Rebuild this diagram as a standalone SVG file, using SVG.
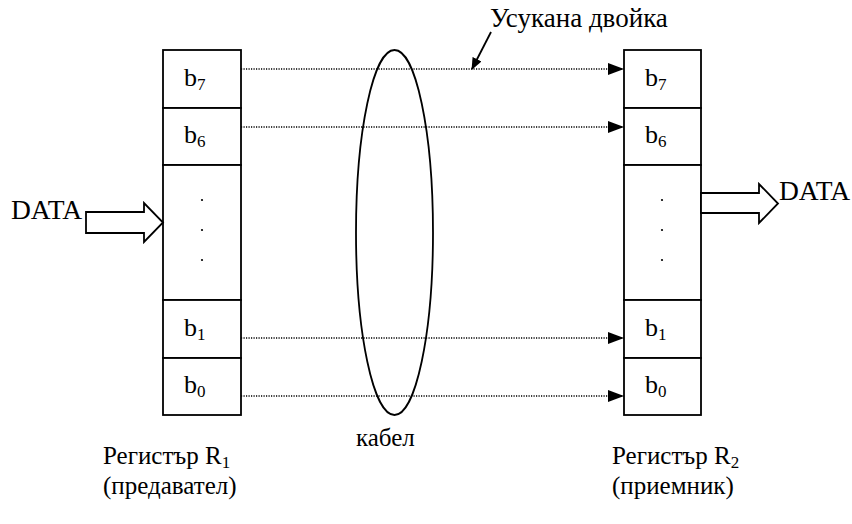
<svg xmlns="http://www.w3.org/2000/svg" width="852" height="524" viewBox="0 0 852 524">
<style>
.box{fill:#fff;stroke:#000;stroke-width:1.8}
text{font-family:'Liberation Serif','Times New Roman','DejaVu Serif',serif;font-size:26px;fill:#000}
.sub{font-size:17px}
.lg{font-size:27.5px}
.sm{font-size:25px}
.dot{stroke:#000;stroke-width:1.5;stroke-dasharray:1.2 1.3;fill:none}
.big{fill:#fff;stroke:#000;stroke-width:1.8}
</style>
<defs>
<marker id="ah" markerWidth="16" markerHeight="12" refX="16" refY="6" orient="auto" markerUnits="userSpaceOnUse">
<path d="M0,0 L16,6 L0,12 Z" fill="#000"/>
</marker>
<marker id="ah2" markerWidth="12" markerHeight="12" refX="11" refY="6" orient="auto" markerUnits="userSpaceOnUse">
<path d="M0,1 L12,6 L0,11 Z" fill="#000"/>
</marker>
</defs>
<rect width="852" height="524" fill="#fff"/>

<g id="register-r1">
<rect class="box" x="163" y="50" width="78" height="58"/>
<rect class="box" x="163" y="108" width="78" height="57"/>
<rect class="box" x="163" y="165" width="78" height="135"/>
<rect class="box" x="163" y="300" width="78" height="58"/>
<rect class="box" x="163" y="358" width="78" height="57"/>
<text x="184" y="86">b<tspan class="sub" dy="4">7</tspan></text>
<text x="184" y="143">b<tspan class="sub" dy="4">6</tspan></text>
<text x="184" y="336">b<tspan class="sub" dy="4">1</tspan></text>
<text x="184" y="393">b<tspan class="sub" dy="4">0</tspan></text>
<circle cx="202" cy="200" r="1.1"/>
<circle cx="202" cy="230" r="1.1"/>
<circle cx="202" cy="260" r="1.1"/>
</g>

<g id="register-r2">
<rect class="box" x="624" y="50" width="77" height="58"/>
<rect class="box" x="624" y="108" width="77" height="57"/>
<rect class="box" x="624" y="165" width="77" height="135"/>
<rect class="box" x="624" y="300" width="77" height="58"/>
<rect class="box" x="624" y="358" width="77" height="57"/>
<text x="645" y="86">b<tspan class="sub" dy="4">7</tspan></text>
<text x="645" y="143">b<tspan class="sub" dy="4">6</tspan></text>
<text x="645" y="336">b<tspan class="sub" dy="4">1</tspan></text>
<text x="645" y="393">b<tspan class="sub" dy="4">0</tspan></text>
<circle cx="662" cy="200" r="1.1"/>
<circle cx="662" cy="230" r="1.1"/>
<circle cx="662" cy="260" r="1.1"/>
</g>

<g id="cable">
<ellipse cx="394.5" cy="232.5" rx="38.5" ry="182.5" fill="none" stroke="#000" stroke-width="1.8"/>
</g>

<g id="connectors">
<line class="dot" x1="241" y1="69" x2="624" y2="69" marker-end="url(#ah)"/>
<line class="dot" x1="241" y1="127" x2="624" y2="127" marker-end="url(#ah)"/>
<line class="dot" x1="241" y1="338" x2="624" y2="338" marker-end="url(#ah)"/>
<line class="dot" x1="241" y1="396" x2="624" y2="396" marker-end="url(#ah)"/>
<line x1="491" y1="32" x2="472" y2="69" stroke="#000" stroke-width="1.8" marker-end="url(#ah2)"/>
<path class="big" d="M86,212 L144,212 L144,203 L163,222.5 L144,242 L144,233 L86,233 Z"/>
<path class="big" d="M701,193 L759,193 L759,184 L778,203.5 L759,223 L759,213 L701,213 Z"/>
</g>

<g id="labels">
<text class="lg" x="490" y="27" style="font-size:27px">Усукана двойка</text>
<text class="lg" x="11" y="219">DATA</text>
<text class="lg" x="779" y="200">DATA</text>
<text class="sm" x="356" y="446">кабел</text>
<text class="sm" x="103" y="464">Регистър R<tspan class="sub" dy="4">1</tspan></text>
<text class="sm" x="103" y="494">(предавател)</text>
<text class="sm" x="612" y="464">Регистър R<tspan class="sub" dy="4">2</tspan></text>
<text class="sm" x="612" y="494">(приемник)</text>
</g>
</svg>
